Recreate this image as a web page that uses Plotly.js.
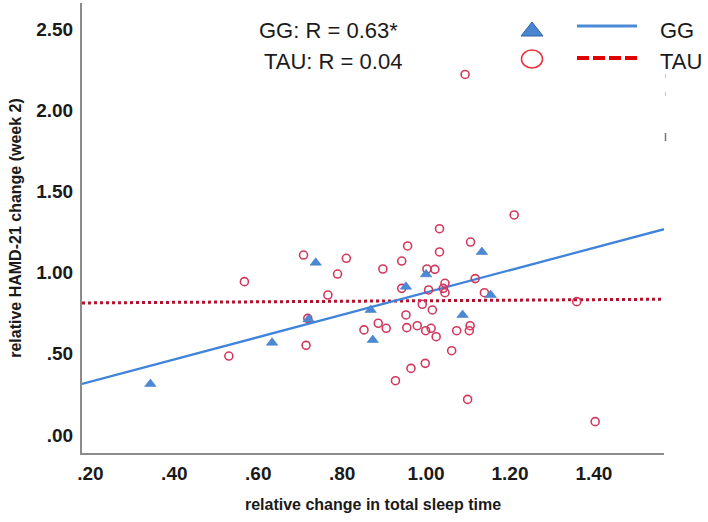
<!DOCTYPE html>
<html>
<head>
<meta charset="utf-8">
<script src="https://cdn.plot.ly/plotly-3.0.1.min.js"></script>
<style>
html,body{margin:0;padding:0;background:#fff;}
#chart{width:708px;height:522px;}
</style>
</head>
<body>
<div id="chart"></div>
<script>
// ---- data ----
const xTickVals = [0.2, 0.4, 0.6, 0.8, 1.0, 1.2, 1.4];
const xTickText = ['.20', '.40', '.60', '.80', '1.00', '1.20', '1.40'];
const yTickVals = [0, 0.5, 1.0, 1.5, 2.0, 2.5];
const yTickText = ['.00', '.50', '1.00', '1.50', '2.00', '2.50'];

const ggX = [0.343, 0.633, 0.720, 0.737, 0.868, 0.873, 0.952, 1.000, 1.087, 1.133, 1.154];
const ggY = [0.314, 0.568, 0.712, 1.061, 0.770, 0.585, 0.913, 0.989, 0.739, 1.127, 0.862];

const tauX = [0.530, 0.567, 0.708, 0.714, 0.718, 0.766, 0.789, 0.810, 0.852, 0.886,
              0.897, 0.905, 0.927, 0.942, 0.942, 0.956, 0.952, 0.954, 0.964, 0.979,
              0.991, 0.999, 0.998, 1.002, 1.006, 1.012, 1.015, 1.021, 1.024, 1.032,
              1.032, 1.041, 1.045, 1.045, 1.061, 1.073, 1.093, 1.099, 1.103, 1.105,
              1.106, 1.117, 1.139, 1.210, 1.359, 1.403];
const tauY = [0.486, 0.944, 1.108, 0.552, 0.718, 0.862, 0.991, 1.088, 0.647, 0.688,
              1.022, 0.657, 0.334, 1.071, 0.903, 1.164, 0.739, 0.661, 0.410, 0.673,
              0.805, 0.642, 0.441, 1.022, 0.893, 0.657, 0.770, 1.020, 0.605, 1.270,
              1.127, 0.903, 0.934, 0.876, 0.519, 0.642, 2.220, 0.219, 0.642, 0.673,
              1.188, 0.963, 0.876, 1.355, 0.821, 0.082];

const ggFitX = [0.180, 1.567];
const ggFitY = [0.314, 1.267];
const tauFitX = [0.180, 1.567];
const tauFitY = [0.813, 0.836];

const statLines = ['GG: R = 0.63*', 'TAU: R = 0.04'];
const legendNames = ['GG', 'TAU'];
const xTitle = 'relative change in total sleep time';
const yTitle = 'relative HAMD-21 change (week 2)';

// ---- layout helpers (pixel -> paper) ----
const W = 708, H = 522;
const M = {l: 82, r: 44, t: 3, b: 69};
const PW = W - M.l - M.r, PH = H - M.t - M.b;
const px = v => (v - M.l) / PW;
const py = v => (H - M.b - v) / PH;

const traces = [
  {x: tauFitX, y: tauFitY, mode: 'lines', type: 'scatter', showlegend: false, hoverinfo: 'skip',
   line: {color: '#b5102c', width: 3, dash: 'dot'}},
  {x: ggFitX, y: ggFitY, mode: 'lines', type: 'scatter', showlegend: false, hoverinfo: 'skip',
   line: {color: '#3f84da', width: 2.3}},
  {x: tauX, y: tauY, mode: 'markers', type: 'scatter', showlegend: false,
   marker: {symbol: 'circle-open', size: 8, color: '#d2385e', line: {width: 1.6, color: '#d2385e'}}},
  {x: ggX, y: ggY, mode: 'markers', type: 'scatter', showlegend: false,
   marker: {symbol: 'triangle-up', size: 10, color: '#4a89d6', line: {width: 0.5, color: '#3a74c0'}}}
];

const annFont = {family: 'Liberation Sans, Arial, sans-serif', size: 22, color: '#1a1a1a'};
const annotations = [
  {xref: 'paper', yref: 'paper', x: px(257), y: py(30), xanchor: 'left', yanchor: 'middle',
   text: statLines[0], showarrow: false, font: annFont},
  {xref: 'paper', yref: 'paper', x: px(262), y: py(62), xanchor: 'left', yanchor: 'middle',
   text: statLines[1], showarrow: false, font: annFont},
  {xref: 'paper', yref: 'paper', x: px(658), y: py(30), xanchor: 'left', yanchor: 'middle',
   text: legendNames[0], showarrow: false, font: annFont},
  {xref: 'paper', yref: 'paper', x: px(658), y: py(62), xanchor: 'left', yanchor: 'middle',
   text: legendNames[1], showarrow: false, font: annFont}
];

const shapes = [
  // legend triangle
  {type: 'path', xref: 'paper', yref: 'paper',
   path: `M ${px(521)} ${py(36)} L ${px(543)} ${py(36)} L ${px(532)} ${py(22)} Z`,
   fillcolor: '#4a86d0', line: {color: '#2f64a8', width: 1}},
  // legend circle
  {type: 'circle', xref: 'paper', yref: 'paper',
   x0: px(521.5), x1: px(542.5), y0: py(68), y1: py(50),
   line: {color: '#e8303a', width: 1.5}, fillcolor: 'rgba(0,0,0,0)'},
  // legend lines
  {type: 'line', xref: 'paper', yref: 'paper', x0: px(577), x1: px(637), y0: py(26), y1: py(26),
   line: {color: '#4a8ad6', width: 3}},
  {type: 'line', xref: 'paper', yref: 'paper', x0: px(577), x1: px(637), y0: py(58), y1: py(58),
   line: {color: '#e00000', width: 4, dash: '12px,4px'}},
  // faint stray marks at right edge
  {type: 'line', xref: 'paper', yref: 'paper', x0: px(665.5), x1: px(665.5), y0: py(74), y1: py(78),
   line: {color: '#c8c8c8', width: 1}},
  {type: 'line', xref: 'paper', yref: 'paper', x0: px(665.5), x1: px(665.5), y0: py(92), y1: py(96),
   line: {color: '#c8c8c8', width: 1}},
  {type: 'line', xref: 'paper', yref: 'paper', x0: px(665.5), x1: px(665.5), y0: py(133), y1: py(141),
   line: {color: '#777', width: 1.5}}
];

const tickFont = {family: 'Liberation Sans, Arial, sans-serif', size: 19, color: '#1a1a1a', weight: 'bold'};
const titleFont = {family: 'Liberation Sans, Arial, sans-serif', size: 16, color: '#1a1a1a', weight: 'bold'};

const layout = {
  width: W, height: H,
  margin: M,
  paper_bgcolor: '#ffffff', plot_bgcolor: '#ffffff',
  showlegend: false,
  xaxis: {
    range: [0.180, 1.567], tickvals: xTickVals, ticktext: xTickText,
    showline: true, linecolor: '#8c8c8c', linewidth: 2, mirror: false,
    showgrid: false, zeroline: false, ticks: '', ticklabelstandoff: 2,
    tickfont: tickFont,
    title: {text: '<b>' + xTitle + '</b>', font: titleFont, standoff: 16}
  },
  yaxis: {
    range: [-0.111, 2.66], tickvals: yTickVals, ticktext: yTickText,
    showline: true, linecolor: '#8c8c8c', linewidth: 2, mirror: false,
    showgrid: false, zeroline: false, ticks: '', ticklabelstandoff: 3,
    tickfont: tickFont,
    title: {text: '<b>' + yTitle + '</b>', font: titleFont, standoff: 11}
  },
  annotations: annotations,
  shapes: shapes
};

Plotly.newPlot('chart', traces, layout, {staticPlot: true, displayModeBar: false});
</script>
</body>
</html>
